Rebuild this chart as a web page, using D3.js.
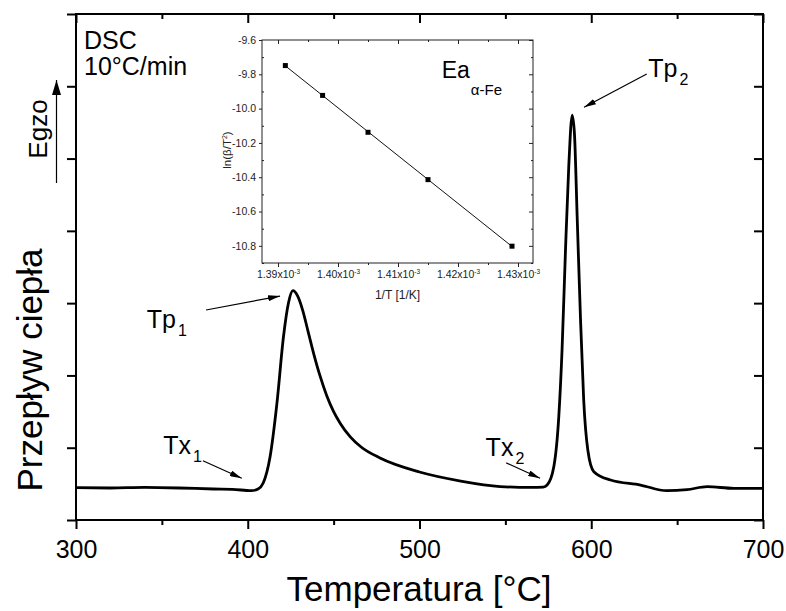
<!DOCTYPE html>
<meta charset="utf-8">
<style>
    body { margin: 0; background: #fff; }
    svg { display: block; font-family: "Liberation Sans", Arial, sans-serif; }
    .frame { fill: none; stroke: #000; stroke-width: 2px; }
    .trace { fill: none; stroke: #000; stroke-width: 2.8px; stroke-linejoin: round; }
    .axis path.domain { display: none; }
    .axis line { stroke: #000; stroke-width: 2px; }
    .axis text { fill: #000; }
    .inset .axis line { stroke: #222; stroke-width: 1px; }
    .inset .axis text { fill: #222; }
    .inset-frame { fill: #fff; stroke: #222; stroke-width: 1px; }
    .fit { fill: none; stroke: #111; stroke-width: 1px; }
    .note { font-size: 25px; }
    .pointer { stroke: #000; stroke-width: 1.2px; }
</style>
<svg width="786" height="611"></svg>
<script src="https://d3js.org/d3.v7.min.js"></script>
<script>

    // DSC trace, heating 10 C/min (heat flow in arbitrary units)
    var temps = [300, 320, 340, 360, 380, 391, 402, 406, 409, 413, 417, 420.8, 423.7, 426.3, 429,
        432, 435, 438.3, 442, 446, 450, 453.8, 459.7, 466, 477, 500, 524, 547, 565, 572, 574.3, 578.2, 581.1, 583,
        585, 586.9, 588.9, 590.2, 591.8, 593.7, 595.6, 598, 601.5, 611.2, 628.7, 644, 655.8, 667.5, 683, 700];
    var heatFlow = [0.447, 0.443, 0.450, 0.443, 0.429, 0.425, 0.405, 0.429, 0.512, 0.876, 1.618, 2.535, 3.001, 3.172, 3.10,
        2.90, 2.62, 2.31, 2.00, 1.72, 1.50, 1.34, 1.15, 1.01, 0.858, 0.664, 0.539, 0.463, 0.450, 0.456, 0.484, 0.737, 1.429, 2.351,
        3.734, 4.887, 5.602, 5.353, 4.195, 2.812, 1.660, 0.968, 0.668, 0.553, 0.484, 0.405, 0.420, 0.461, 0.438, 0.438];

    var xTicks = [300, 400, 500, 600, 700];
    var xMinorTicks = [350, 450, 550, 650];
    var yTicks = [0, 1, 2, 3, 4, 5, 6, 7];

    // Kissinger plot (inset), 1/T in units of 1e-3 1/K
    var invT = [1.39122, 1.39743, 1.4050, 1.4150, 1.4290];
    var lnRate = [-9.749, -9.923, -10.138, -10.414, -10.802];
    var insetXTicks = [1.39, 1.40, 1.41, 1.42, 1.43];
    var insetXMinor = [1.395, 1.405, 1.415, 1.425];
    var insetYTicks = [-9.6, -9.8, -10.0, -10.2, -10.4, -10.6, -10.8];
    var insetYMinor = [-9.7, -9.9, -10.1, -10.3, -10.5, -10.7, -10.9];

    var svg = d3.select("svg");

    var x = d3.scaleLinear().domain([300, 700]).range([76, 763]);
    var y = d3.scaleLinear().domain([0, 7]).range([520, 14]);

    var defs = svg.append("defs");
    defs.append("marker")
        .attr("id", "head")
        .attr("markerUnits", "userSpaceOnUse")
        .attr("viewBox", "0 0 12 6")
        .attr("refX", 12).attr("refY", 3)
        .attr("markerWidth", 12).attr("markerHeight", 6)
        .attr("orient", "auto")
        .append("path").attr("d", "M0,0L12,3L0,6Z").attr("fill", "#000");
    defs.append("marker")
        .attr("id", "bighead")
        .attr("markerUnits", "userSpaceOnUse")
        .attr("viewBox", "0 0 15 9")
        .attr("refX", 15).attr("refY", 4.5)
        .attr("markerWidth", 15).attr("markerHeight", 9)
        .attr("orient", "auto")
        .append("path").attr("d", "M0,0L15,4.5L0,9Z").attr("fill", "#000");

    // axes
    svg.append("g").attr("class", "axis")
        .attr("transform", "translate(0,520)")
        .call(d3.axisBottom(x).tickValues(xTicks).tickSize(9).tickPadding(11).tickFormat(d3.format("d")))
        .attr("font-size", 25).attr("font-family", null);
    svg.append("g").attr("class", "axis")
        .attr("transform", "translate(0,520)")
        .call(d3.axisBottom(x).tickValues(xMinorTicks).tickSize(5).tickFormat(""));
    svg.append("g").attr("class", "axis")
        .attr("transform", "translate(0,14)")
        .call(d3.axisBottom(x).tickValues(xTicks).tickSize(9).tickFormat(""));
    svg.append("g").attr("class", "axis")
        .attr("transform", "translate(0,14)")
        .call(d3.axisBottom(x).tickValues(xMinorTicks).tickSize(5).tickFormat(""));
    svg.append("g").attr("class", "axis")
        .attr("transform", "translate(76,0)")
        .call(d3.axisLeft(y).tickValues(yTicks).tickSize(9).tickFormat(""));
    svg.append("g").attr("class", "axis")
        .attr("transform", "translate(763,0)")
        .call(d3.axisLeft(y).tickValues(yTicks).tickSize(9).tickFormat(""));

    svg.append("rect").attr("class", "frame")
        .attr("x", 76).attr("y", 14).attr("width", 763 - 76).attr("height", 520 - 14);

    var line = d3.line()
        .x(function (d, i) { return x(temps[i]); })
        .y(function (d) { return y(d); })
        .curve(d3.curveMonotoneX);

    svg.append("path").attr("class", "trace").attr("d", line(heatFlow));

    // axis titles
    svg.append("text")
        .attr("x", 419).attr("y", 601)
        .attr("text-anchor", "middle").attr("font-size", 35)
        .text("Temperatura [°C]");
    svg.append("text")
        .attr("transform", "translate(42,370) rotate(-90)")
        .attr("text-anchor", "middle").attr("font-size", 35)
        .text("Przepływ ciepła");
    svg.append("text")
        .attr("transform", "translate(47,129) rotate(-90)")
        .attr("text-anchor", "middle").attr("font-size", 26)
        .text("Egzo");
    svg.append("line").attr("class", "pointer")
        .attr("x1", 56.5).attr("y1", 183).attr("x2", 56.5).attr("y2", 80)
        .attr("stroke-width", 2.4)
        .attr("marker-end", "url(#bighead)");

    svg.append("text").attr("class", "note").attr("x", 84).attr("y", 49).text("DSC");
    svg.append("text").attr("class", "note").attr("x", 84).attr("y", 75).text("10°C/min");

    // peak annotations, placed in data units
    var notes = [
        { main: "Tp", sub: "1", t: 341.2, v: 2.652, from: [375.7, 2.905], to: [418.8, 3.098] },
        { main: "Tx", sub: "1", t: 350.8, v: 0.909, from: [373.9, 0.820], to: [396.5, 0.577] },
        { main: "Tp", sub: "2", t: 633.2, v: 6.124, from: [632.3, 6.169], to: [595.8, 5.709] },
        { main: "Tx", sub: "2", t: 538.5, v: 0.885, from: [550.5, 0.790], to: [570.2, 0.577] }
    ];
    notes.forEach(function (n) {
        var t = svg.append("text").attr("class", "note")
            .attr("x", x(n.t)).attr("y", y(n.v)).text(n.main);
        t.append("tspan").attr("font-size", 16).attr("dx", 2).attr("dy", 8).text(n.sub);
        svg.append("line").attr("class", "pointer")
            .attr("x1", x(n.from[0])).attr("y1", y(n.from[1]))
            .attr("x2", x(n.to[0])).attr("y2", y(n.to[1]))
            .attr("marker-end", "url(#head)");
    });

    // inset: Kissinger plot
    var ix = d3.scaleLinear().domain([1.38733, 1.4325]).range([262, 533]);
    var iy = d3.scaleLinear().domain([-10.9, -9.6]).range([263, 40]);
    var inset = svg.append("g").attr("class", "inset");

    inset.append("rect").attr("class", "inset-frame")
        .attr("x", 262).attr("y", 40).attr("width", 533 - 262).attr("height", 263 - 40);

    var bx = inset.append("g").attr("class", "axis")
        .attr("transform", "translate(0,263)")
        .call(d3.axisBottom(ix).tickValues(insetXTicks).tickSize(4).tickPadding(4)
            .tickFormat(function (d) { return d.toFixed(2) + "x10"; }))
        .attr("font-size", 10.5).attr("font-family", null);
    bx.selectAll("text").append("tspan")
        .attr("font-size", 6.5).attr("dy", -4).text("-3");
    inset.append("g").attr("class", "axis")
        .attr("transform", "translate(0,263)")
        .call(d3.axisBottom(ix).tickValues(insetXMinor).tickSize(2).tickFormat(""));
    inset.append("g").attr("class", "axis")
        .attr("transform", "translate(0,40)")
        .call(d3.axisBottom(ix).tickValues(insetXTicks).tickSize(4).tickFormat(""));
    inset.append("g").attr("class", "axis")
        .attr("transform", "translate(0,40)")
        .call(d3.axisBottom(ix).tickValues(insetXMinor).tickSize(2).tickFormat(""));
    inset.append("g").attr("class", "axis")
        .attr("transform", "translate(262,0)")
        .call(d3.axisLeft(iy).tickValues(insetYTicks).tickSize(3).tickPadding(3)
            .tickFormat(function (d) { return d.toFixed(1); }))
        .attr("font-size", 10.5).attr("font-family", null);
    inset.append("g").attr("class", "axis")
        .attr("transform", "translate(262,0)")
        .call(d3.axisRight(iy).tickValues(insetYMinor).tickSize(2).tickFormat(""));
    inset.append("g").attr("class", "axis")
        .attr("transform", "translate(533,0)")
        .call(d3.axisLeft(iy).tickValues(insetYTicks).tickSize(4).tickFormat(""));
    inset.append("g").attr("class", "axis")
        .attr("transform", "translate(533,0)")
        .call(d3.axisLeft(iy).tickValues(insetYMinor).tickSize(2).tickFormat(""));

    // least squares fit through the points
    var mx = d3.mean(invT), my = d3.mean(lnRate);
    var sxy = d3.sum(invT, function (d, i) { return (d - mx) * (lnRate[i] - my); });
    var sxx = d3.sum(invT, function (d) { return (d - mx) * (d - mx); });
    var slope = sxy / sxx, icpt = my - slope * mx;
    var fitX = d3.extent(invT);
    inset.append("line").attr("class", "fit")
        .attr("x1", ix(fitX[0])).attr("y1", iy(icpt + slope * fitX[0]))
        .attr("x2", ix(fitX[1])).attr("y2", iy(icpt + slope * fitX[1]));

    inset.selectAll(".pt")
        .data(invT)
        .enter().append("rect")
        .attr("class", "pt")
        .attr("x", function (d) { return ix(d) - 2.5; })
        .attr("y", function (d, i) { return iy(lnRate[i]) - 2.5; })
        .attr("width", 5).attr("height", 5)
        .attr("fill", "#000");

    inset.append("text")
        .attr("x", 397.5).attr("y", 299)
        .attr("text-anchor", "middle").attr("font-size", 12).attr("fill", "#222")
        .text("1/T [1/K]");
    var il = inset.append("text")
        .attr("transform", "translate(231,150) rotate(-90)")
        .attr("text-anchor", "middle").attr("font-size", 11.5).attr("fill", "#222")
        .text("ln(β/T");
    il.append("tspan").attr("font-size", 7).attr("dy", -4).text("2");
    il.append("tspan").attr("dy", 4).text(")");

    var ea = inset.append("text")
        .attr("x", 441.7).attr("y", 78).attr("font-size", 23)
        .text("Ea");
    ea.append("tspan").attr("font-size", 15).attr("dx", 1).attr("dy", 17).text("α-Fe");

</script>
